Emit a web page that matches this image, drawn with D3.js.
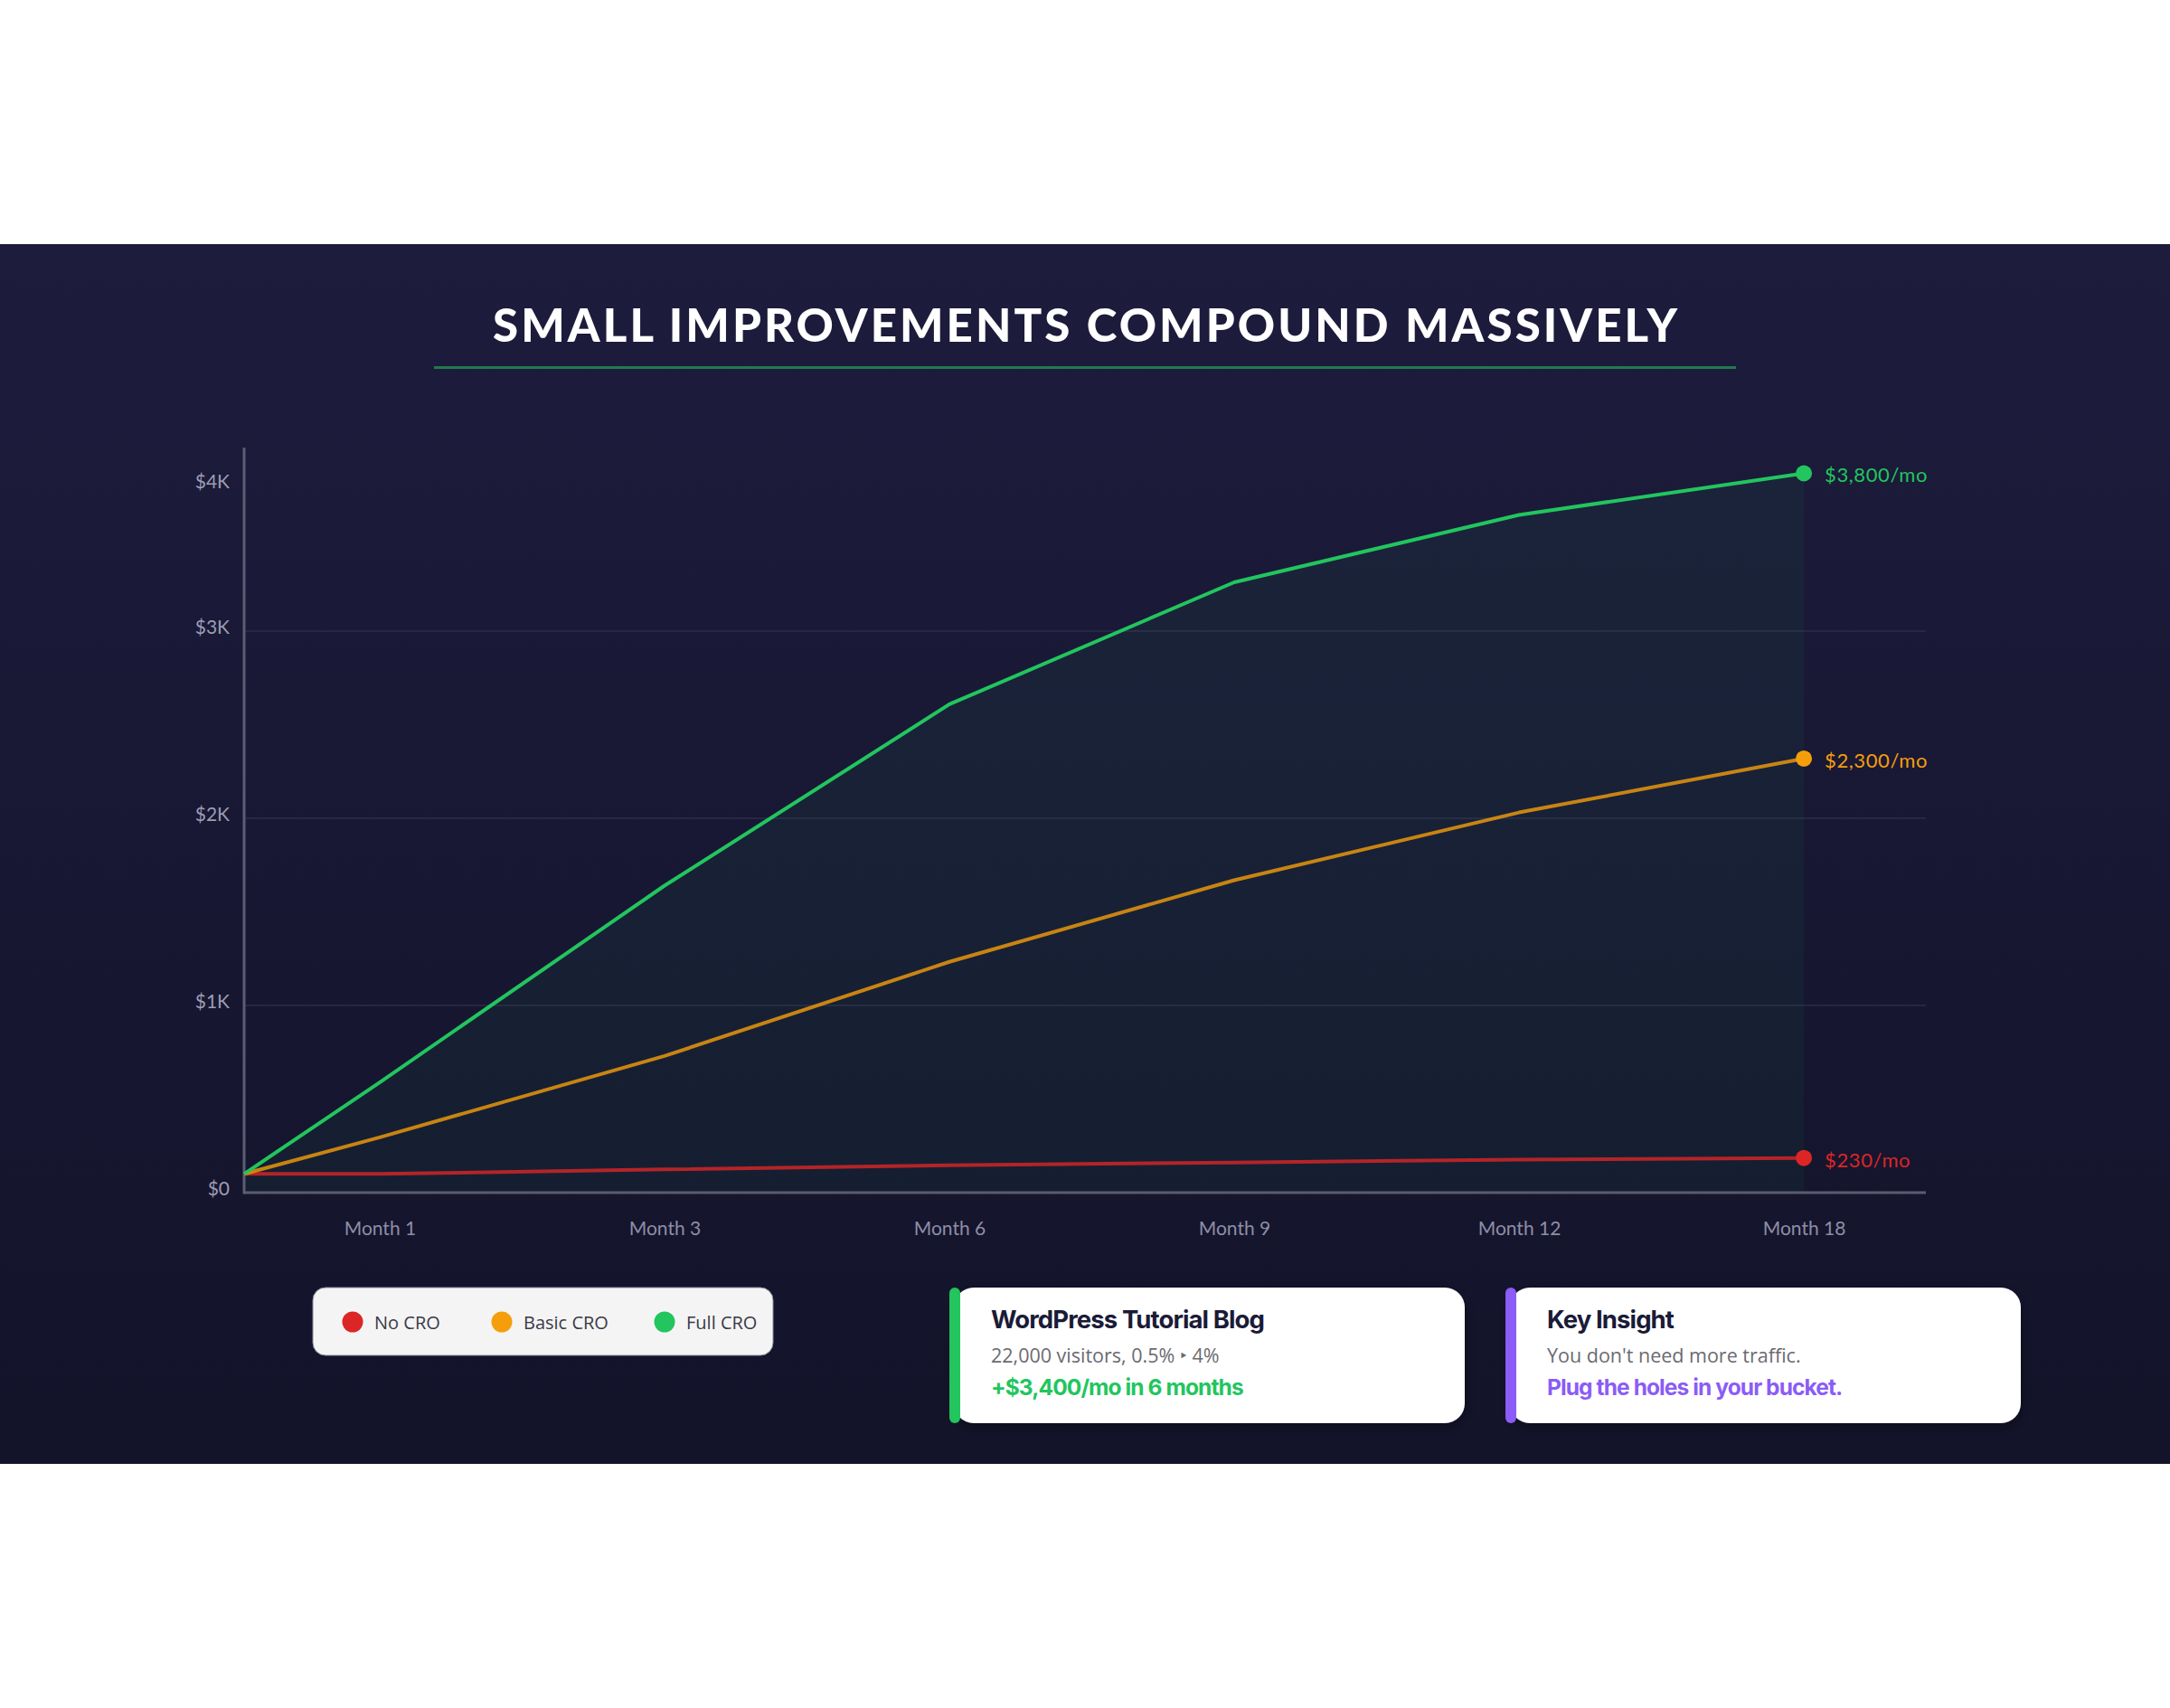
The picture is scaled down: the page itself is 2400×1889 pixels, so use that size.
<!DOCTYPE html>
<html>
<head>
<meta charset="utf-8">
<script src="https://cdn.jsdelivr.net/npm/d3@7"></script>
<style>
  html, body { margin: 0; padding: 0; background: #ffffff; }
  svg { display: block; }
</style>
</head>
<body>
<svg id="chart" width="2400" height="1889"></svg>
<script>
// ---------- data ----------
const months = ["Month 1", "Month 3", "Month 6", "Month 9", "Month 12", "Month 18"];
const startValue = 100;
const noCRO    = [100, 124, 146, 161, 176, 185];
const basicCRO = [295, 730, 1233, 1669, 2031, 2319];
const fullCRO  = [589, 1640, 2609, 3261, 3621, 3843];
const seriesNames = ["No CRO", "Basic CRO", "Full CRO"];
const seriesColors = ["#dc2626", "#f59e0b", "#22c55e"];
const endLabels = ["$230/mo", "$2,300/mo", "$3,800/mo"];
const yTicks = [0, 1000, 2000, 3000, 4000];
const yTickLabels = ["$0", "$1K", "$2K", "$3K", "$4K"];
const titleText = "SMALL IMPROVEMENTS COMPOUND MASSIVELY";
const cards = [
  { title: "WordPress Tutorial Blog", sub: "22,000 visitors, 0.5% \u2023 4%", hi: "+$3,400/mo in 6 months", color: "#22c55e" },
  { title: "Key Insight", sub: "You don't need more traffic.", hi: "Plug the holes in your bucket.", color: "#8b5cf6" }
];

// ---------- layout ----------
const svg = d3.select("#chart");
const W = 2400, H = 1889;
const bandTop = 270, bandBottom = 1619;
const plotLeft = 270, plotRight = 2130, plotTop = 495, plotBottom = 1319;

const defs = svg.append("defs");
const bg = defs.append("linearGradient").attr("id", "bg").attr("x1", 0).attr("y1", 0).attr("x2", 0).attr("y2", 1);
bg.append("stop").attr("offset", "0%").attr("stop-color", "#1d1c3d");
bg.append("stop").attr("offset", "100%").attr("stop-color", "#13132a");
const sh = defs.append("filter").attr("id", "shadow").attr("x", "-10%").attr("y", "-20%").attr("width", "120%").attr("height", "150%");
sh.append("feDropShadow").attr("dx", 0).attr("dy", 4).attr("stdDeviation", 8).attr("flood-color", "#000").attr("flood-opacity", 0.35);

svg.append("rect").attr("x", 0).attr("y", 0).attr("width", W).attr("height", H).attr("fill", "#ffffff");
svg.append("rect").attr("x", 0).attr("y", bandTop).attr("width", W).attr("height", bandBottom - bandTop).attr("fill", "url(#bg)");

// title
svg.append("text")
  .attr("x", 1200).attr("y", 378)
  .attr("text-anchor", "middle")
  .attr("font-family", "Lato, 'Open Sans', sans-serif")
  .attr("font-weight", 900)
  .attr("font-size", 51)
  .attr("fill", "#ffffff")
  .attr("textLength", 1310)
  .attr("lengthAdjust", "spacing")
  .text(titleText);
svg.append("rect").attr("x", 480).attr("y", 405).attr("width", 1440).attr("height", 3).attr("fill", "#1f7a4c");

// scales
const x = d3.scalePoint().domain(months).range([plotLeft, 2145]).padding(0.476);
const y = d3.scaleLinear().domain([0, 4000]).range([plotBottom, 491]);

// gridlines
svg.append("g").selectAll("line").data(yTicks.filter(v => v > 0 && v < 4000)).join("line")
  .attr("x1", plotLeft).attr("x2", plotRight)
  .attr("y1", d => y(d)).attr("y2", d => y(d))
  .attr("stroke", "#2d2d4a").attr("stroke-width", 1.5);

// series data with start point at the y-axis
const allSeries = [noCRO, basicCRO, fullCRO].map(vals =>
  [{ x: plotLeft, v: startValue }].concat(vals.map((v, i) => ({ x: x(months[i]), v })))
);

// area under Full CRO
const area = d3.area().x(d => d.x).y0(y(0)).y1(d => y(d.v));
svg.append("path").datum(allSeries[2]).attr("d", area)
  .attr("fill", "#22c55e").attr("fill-opacity", 0.055);

// axes
const yAxis = d3.axisLeft(y).tickValues(yTicks).tickFormat((d, i) => yTickLabels[i]).tickSize(0).tickPadding(16);
const gy = svg.append("g").attr("transform", `translate(${plotLeft},0)`).call(yAxis);
gy.select(".domain").remove();
gy.selectAll("text")
  .attr("font-family", "Lato, 'Open Sans', sans-serif")
  .attr("font-size", 21)
  .attr("fill", "#9d9db3")
  .attr("dy", "0.1em")
  .attr("transform", d => d === 4000 ? "translate(0,46)" : null);

const xAxis = d3.axisBottom(x).tickSize(0).tickPadding(32);
const gx = svg.append("g").attr("transform", `translate(0,${plotBottom})`).call(xAxis);
gx.select(".domain").remove();
gx.selectAll("text")
  .attr("font-family", "Lato, 'Open Sans', sans-serif")
  .attr("font-size", 21)
  .attr("fill", "#8e8ea6");

svg.append("line").attr("x1", plotLeft).attr("x2", plotLeft).attr("y1", plotTop).attr("y2", plotBottom + 1.5)
  .attr("stroke", "#5c5c74").attr("stroke-width", 3);
svg.append("line").attr("x1", plotLeft).attr("x2", plotRight).attr("y1", plotBottom).attr("y2", plotBottom)
  .attr("stroke", "#5c5c70").attr("stroke-width", 3);

// lines
const line = d3.line().x(d => d.x).y(d => y(d.v));
const lineOpacity = [0.8, 0.8, 1];
allSeries.forEach((s, i) => {
  svg.append("path").datum(s).attr("d", line)
    .attr("fill", "none").attr("stroke", seriesColors[i])
    .attr("stroke-opacity", lineOpacity[i])
    .attr("stroke-width", 4).attr("stroke-linejoin", "round");
});

// end dots + labels
allSeries.forEach((s, i) => {
  const last = s[s.length - 1];
  svg.append("circle").attr("cx", last.x).attr("cy", y(last.v)).attr("r", 9).attr("fill", seriesColors[i]);
  svg.append("text").attr("x", last.x + 23).attr("y", y(last.v) + 10)
    .attr("font-family", "Lato, 'Open Sans', sans-serif")
    .attr("font-size", 22)
    .attr("letter-spacing", 0.6)
    .attr("fill", seriesColors[i])
    .text(endLabels[i]);
});

// legend
const lg = svg.append("g");
lg.append("rect").attr("x", 346).attr("y", 1424).attr("width", 509).attr("height", 75).attr("rx", 14)
  .attr("fill", "#f4f4f5").attr("stroke", "#8a8aa0").attr("stroke-width", 1);
const legendX = [390, 555, 735];
seriesNames.forEach((n, i) => {
  lg.append("circle").attr("cx", legendX[i]).attr("cy", 1462).attr("r", 11.5).attr("fill", seriesColors[i]);
  lg.append("text").attr("x", legendX[i] + 24).attr("y", 1470)
    .attr("font-family", "'Open Sans', Lato, sans-serif")
    .attr("font-size", 20)
    .attr("fill", "#3a3a44")
    .text(n);
});

// cards
const cardX = [1050, 1665];
cards.forEach((c, i) => {
  const g = svg.append("g").attr("transform", `translate(${cardX[i]},1424)`);
  g.append("rect").attr("x", 5).attr("y", 0).attr("width", 565).attr("height", 150).attr("rx", 22)
    .attr("fill", "#ffffff").attr("filter", "url(#shadow)");
  g.append("rect").attr("x", 0).attr("y", 0).attr("width", 12).attr("height", 150).attr("rx", 6).attr("fill", c.color);
  g.append("text").attr("x", 46).attr("y", 45)
    .attr("font-family", "Inter, Lato, sans-serif").attr("font-weight", 700)
    .attr("font-size", 27.5).attr("letter-spacing", -0.9).attr("fill", "#1b1b38").text(c.title);
  g.append("text").attr("x", 46).attr("y", 83)
    .attr("font-family", "'Open Sans', Lato, sans-serif")
    .attr("font-size", 21.5).attr("fill", "#6a6a72").text(c.sub);
  g.append("text").attr("x", 46).attr("y", 119)
    .attr("font-family", "Inter, Lato, sans-serif").attr("font-weight", 700)
    .attr("font-size", 24.5).attr("letter-spacing", -0.9).attr("fill", c.color).text(c.hi);
});
</script>
</body>
</html>
